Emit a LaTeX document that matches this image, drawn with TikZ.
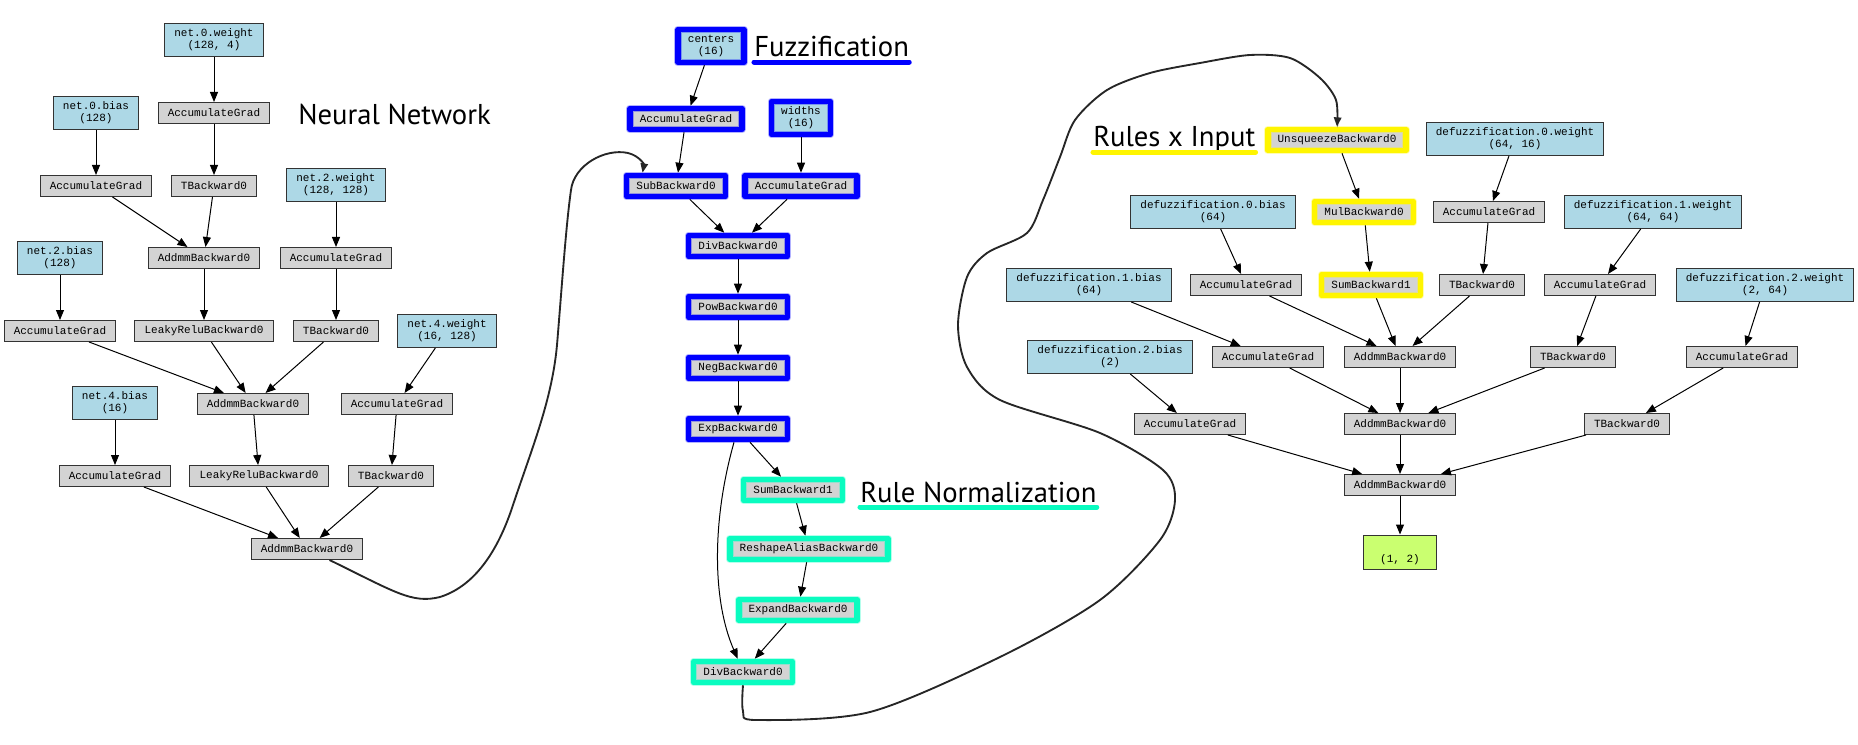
\documentclass[tikz,border=0pt]{standalone}
\usepackage{fontspec}
\usetikzlibrary{arrows.meta}
\newfontfamily\nodefont{Liberation Mono}
\newfontfamily\labelfont{PT Sans}
\definecolor{paramblue}{RGB}{173,216,230}
\definecolor{opgray}{RGB}{211,211,211}
\definecolor{outgreen}{RGB}{202,255,112}
\definecolor{fuzzblue}{RGB}{0,0,255}
\definecolor{normcyan}{RGB}{10,252,192}
\definecolor{ruleyellow}{RGB}{255,245,0}

\begin{document}
\begin{tikzpicture}[x=0.75pt, y=-0.75pt, node distance=45.75pt,
    op/.style={rectangle, draw=black!80, line width=0.75pt, fill=opgray, font=\nodefont\fontsize{8.25}{9}\selectfont, inner xsep=7.3pt, inner ysep=1pt, minimum height=15.75pt},
    param/.style={op, fill=paramblue, align=center, minimum height=24.75pt},
    outnode/.style={op, fill=outgreen, minimum width=54.75pt, text height=17pt, text depth=2pt, inner ysep=3.25pt},
    hl/.style={postaction={draw=#1, line width=5.6pt, opacity=.3, line join=round}, postaction={draw=#1, line width=4.2pt, line join=round}, outer sep=2.1pt},
    arr/.style={-{Triangle[length=7.5pt,width=6pt]}, line width=0.75pt},
    loopline/.style={-{Triangle[length=7pt,width=5.5pt]}, line width=1.4pt, black!85},
    lbl/.style={font=\labelfont\fontsize{21.5}{24}\selectfont, inner sep=0pt, anchor=base west},
    uline/.style={line width=3.8pt, line cap=round}]
    \useasboundingbox (0,0) rectangle (1858,745);

    % Neural network
    \node [param] (nw0) at (214,40) {net.0.weight\\(128, 4)};
    \node [op] (ag0w) at (214,113) {AccumulateGrad};
    \node [param] (nb0) at (96,113) {net.0.bias\\(128)};
    \node [op] (ag0b) at (96,186) {AccumulateGrad};
    \node [op] (tb0) at (214,186) {TBackward0};
    \node [param] (nw2) at (336,185) {net.2.weight\\(128, 128)};
    \node [op] (ad0) at (204,258) {AddmmBackward0};
    \node [op] (ag2w) at (336,258) {AccumulateGrad};
    \node [param] (nb2) at (60,258) {net.2.bias\\(128)};
    \node [op] (ag2b) at (60,331) {AccumulateGrad};
    \node [op] (lr0) at (204,331) {LeakyReluBackward0};
    \node [op] (tb2) at (336,331) {TBackward0};
    \node [param] (nw4) at (447,331) {net.4.weight\\(16, 128)};
    \node [param] (nb4) at (115,403) {net.4.bias\\(16)};
    \node [op] (ad2) at (253,404) {AddmmBackward0};
    \node [op] (ag4w) at (397,404) {AccumulateGrad};
    \node [op] (ag4b) at (115,476) {AccumulateGrad};
    \node [op] (lr2) at (259,476) {LeakyReluBackward0};
    \node [op] (tb4) at (391,476) {TBackward0};
    \node [op] (ad4) at (307,549) {AddmmBackward0};
    \node [lbl] (nnlbl) at (298,125) {Neural Network};

    % Fuzzification
    \node [param, hl=fuzzblue] (cen) at (711,46) {centers\\(16)};
    \node [op, hl=fuzzblue] (fa1) at (686,119) {AccumulateGrad};
    \node [param, hl=fuzzblue] (wid) at (801,118) {widths\\(16)};
    \node [op, hl=fuzzblue] (sub) at (676,186) {SubBackward0};
    \node [op, hl=fuzzblue] (fa2) at (801,186) {AccumulateGrad};
    \node [op, hl=fuzzblue] (div1) at (738,246) {DivBackward0};
    \node [op, hl=fuzzblue, below of=div1] (pow) {PowBackward0};
    \node [op, hl=fuzzblue, below of=pow] (neg) {NegBackward0};
    \node [op, hl=fuzzblue, below of=neg] (exp) {ExpBackward0};
    \node [lbl] (fzlbl) at (754,57) {Fuzzification};

    % Rule normalization
    \node [op, hl=normcyan] (sumb) at (793,490) {SumBackward1};
    \node [op, hl=normcyan] (resh) at (809,549) {ReshapeAliasBackward0};
    \node [op, hl=normcyan] (expd) at (798,610) {ExpandBackward0};
    \node [op, hl=normcyan] (div2) at (743,672) {DivBackward0};
    \node [lbl] (rnlbl) at (860,502) {Rule Normalization};

    % Rules x input and defuzzification
    \node [op, hl=ruleyellow] (unsq) at (1337,140) {UnsqueezeBackward0};
    \node [op, hl=ruleyellow] (mul) at (1364,212) {MulBackward0};
    \node [op, hl=ruleyellow] (sumy) at (1371,285) {SumBackward1};
    \node [lbl] (rilbl) at (1093,147) {Rules x Input};
    \node [param] (dw0) at (1515,139) {defuzzification.0.weight\\(64, 16)};
    \node [op] (dag0w) at (1489,212) {AccumulateGrad};
    \node [op] (dtb0) at (1482,285) {TBackward0};
    \node [param] (db0) at (1213,212) {defuzzification.0.bias\\(64)};
    \node [op] (dag0b) at (1246,285) {AccumulateGrad};
    \node [param] (dw1) at (1653,212) {defuzzification.1.weight\\(64, 64)};
    \node [op] (dag1w) at (1600,285) {AccumulateGrad};
    \node [param] (db1) at (1089,285) {defuzzification.1.bias\\(64)};
    \node [op] (dad0) at (1400,357) {AddmmBackward0};
    \node [op] (dag1b) at (1268,357) {AccumulateGrad};
    \node [op] (dtb1) at (1573,357) {TBackward0};
    \node [param] (dw2) at (1765,285) {defuzzification.2.weight\\(2, 64)};
    \node [op] (dag2w) at (1742,357) {AccumulateGrad};
    \node [param] (db2) at (1110,357) {defuzzification.2.bias\\(2)};
    \node [op] (dag2b) at (1190,424) {AccumulateGrad};
    \node [op] (dad1) at (1400,424) {AddmmBackward0};
    \node [op] (dtb2) at (1627,424) {TBackward0};
    \node [op] (dad2) at (1400,485) {AddmmBackward0};
    \node [outnode] (out) at (1400,552) {(1, 2)};

    % Underlines
    \draw [uline, fuzzblue] ([yshift=-3.8pt]fzlbl.base west) -- ([yshift=-3.8pt]fzlbl.base east);
    \draw [uline, normcyan] ([yshift=-3.8pt]rnlbl.base west) -- ([yshift=-3.8pt]rnlbl.base east);
    \draw [uline, ruleyellow] ([yshift=-3.8pt]rilbl.base west) -- ([yshift=-3.8pt]rilbl.base east);

    % Arrows
    \draw [arr] (nw0) -- (ag0w);
    \draw [arr] (ag0w) -- (tb0);
    \draw [arr] (nb0) -- (ag0b);
    \draw [arr] (ag0b) -- (ad0);
    \draw [arr] (tb0) -- (ad0);
    \draw [arr] (nw2) -- (ag2w);
    \draw [arr] (nb2) -- (ag2b);
    \draw [arr] (ad0) -- (lr0);
    \draw [arr] (ag2w) -- (tb2);
    \draw [arr] (ag2b) -- (ad2);
    \draw [arr] (lr0) -- (ad2);
    \draw [arr] (tb2) -- (ad2);
    \draw [arr] (nw4) -- (ag4w);
    \draw [arr] (ag4w) -- (tb4);
    \draw [arr] (nb4) -- (ag4b);
    \draw [arr] (ad2) -- (lr2);
    \draw [arr] (ag4b) -- (ad4);
    \draw [arr] (lr2) -- (ad4);
    \draw [arr] (tb4) -- (ad4);

    \draw [arr] (cen) -- (fa1);
    \draw [arr] (fa1) -- (sub);
    \draw [arr] (wid) -- (fa2);
    \draw [arr] (sub) -- (div1);
    \draw [arr] (fa2) -- (div1);
    \draw [arr] (div1) -- (pow);
    \draw [arr] (pow) -- (neg);
    \draw [arr] (neg) -- (exp);
    \draw [arr] (exp) -- (sumb);
    \draw [arr] (sumb) -- (resh);
    \draw [arr] (resh) -- (expd);
    \draw [arr] (expd) -- (div2);
    \draw [arr] ([xshift=-3pt]exp.south) .. controls (712,520) and (712,600) .. ([xshift=-4pt]div2.north);

    \draw [arr] (unsq) -- (mul);
    \draw [arr] (mul) -- (sumy);
    \draw [arr] (dw0) -- (dag0w);
    \draw [arr] (dag0w) -- (dtb0);
    \draw [arr] (db0) -- (dag0b);
    \draw [arr] (sumy) -- (dad0);
    \draw [arr] (dag0b) -- (dad0);
    \draw [arr] (dtb0) -- (dad0);
    \draw [arr] (dw1) -- (dag1w);
    \draw [arr] (dag1w) -- (dtb1);
    \draw [arr] (db1) -- (dag1b);
    \draw [arr] (dag1b) -- (dad1);
    \draw [arr] (dad0) -- (dad1);
    \draw [arr] (dtb1) -- (dad1);
    \draw [arr] (dw2) -- (dag2w);
    \draw [arr] (dag2w) -- (dtb2);
    \draw [arr] (db2) -- (dag2b);
    \draw [arr] (dag2b) -- (dad2);
    \draw [arr] (dad1) -- (dad2);
    \draw [arr] (dtb2) -- (dad2);
    \draw [arr] (dad2) -- (out);

    % Hand-drawn links between the blocks
    \draw [loopline] (ad4) .. controls (395,592) and (412,604) .. (440,597)
        .. controls (478,585) and (500,545) .. (513,505)
        .. controls (532,448) and (552,400) .. (557,345)
        .. controls (562,285) and (566,225) .. (571,190)
        .. controls (574,165) and (605,148) .. (628,153)
        .. controls (640,156) and (644,165) .. ([xshift=14pt]sub.north west);
    \draw [loopline] plot [smooth, tension=0.5] coordinates {(div2.south) (743,711) (756,720) (870,712)
        (1000,657) (1100,600) (1160,540) (1175,500) (1163,470) (1100,433) (1000,400) (967,367)
        (958,325) (967,277) (987,253) (1027,233) (1043,200) (1060,157) (1075,120) (1107,90)
        (1150,73) (1200,63) (1250,55) (1290,58) (1320,78) (1336,100) (unsq.north)};
\end{tikzpicture}
\end{document}
